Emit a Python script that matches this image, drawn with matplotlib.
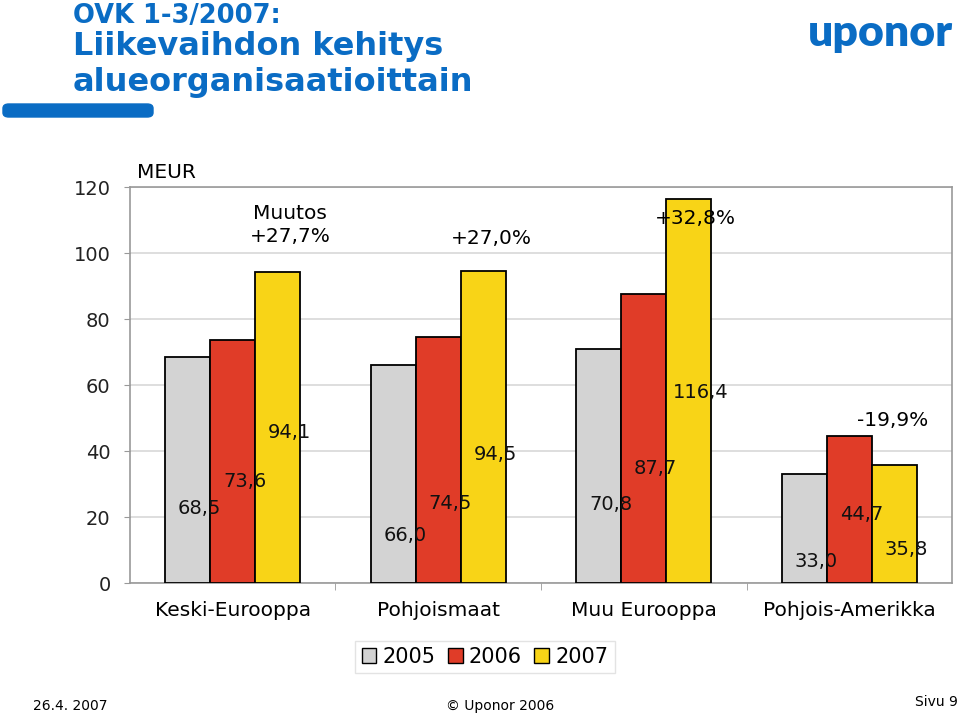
import matplotlib.pyplot as plt
import numpy as np
from matplotlib.patches import FancyBboxPatch

regions = ['Keski-Eurooppa', 'Pohjoismaat', 'Muu Eurooppa', 'Pohjois-Amerikka']
years = ['2005', '2006', '2007']
sales_2005 = [68.5, 66.0, 70.8, 33.0]
sales_2006 = [73.6, 74.5, 87.7, 44.7]
sales_2007 = [94.1, 94.5, 116.4, 35.8]
changes = ['Muutos\n+27,7%', '+27,0%', '+32,8%', '-19,9%']

# where the value labels sit in the original slide (data units, not the bar tops)
label_y = [[22.7, 14.5, 23.9, 6.4],
           [30.9, 24.2, 34.8, 20.9],
           [45.5, 38.8, 57.6, 10.3]]
change_y = [108.5, 104.5, 110.5, 49.1]
change_dx = [0.28, 0.26, 0.25, 0.21]

colors = ['#D3D3D3', '#E03C28', '#F8D417']
blue = '#0A6CC4'

fig = plt.figure(figsize=(9.6, 7.13), dpi=100)
ax = fig.add_axes([0.1354, 0.1823, 0.8563, 0.5554])

x = np.arange(len(regions))
w = 0.219
series = [sales_2005, sales_2006, sales_2007]
for i, vals in enumerate(series):
    xs = x + (i - 1) * w
    ax.bar(xs, vals, w, color=colors[i], edgecolor='black', linewidth=1.3,
           label=years[i], zorder=3)
    for xi, v, ly in zip(xs, vals, label_y[i]):
        ax.text(xi + 0.058, ly, f'{v:.1f}'.replace('.', ','), ha='center',
                va='center', fontsize=14, color='#111111', zorder=4)

for xi, txt, cy, dx in zip(x, changes, change_y, change_dx):
    ax.text(xi + dx, cy, txt, ha='center', va='center', fontsize=14.5,
            linespacing=1.3, zorder=4)

ax.set_xlim(-0.5, 3.5)
ax.set_ylim(0, 120)
ax.set_yticks(range(0, 121, 20))
ax.yaxis.grid(True, color='#D8D8D8', linewidth=1.2, zorder=0)
ax.set_xticks(x)
ax.set_xticklabels(regions, fontsize=14.5)
ax.set_xticks(np.arange(0.5, 3.5, 1), minor=True)
ax.tick_params(axis='x', which='major', length=0, pad=13)
ax.tick_params(axis='x', which='minor', length=5, color='#999999')
ax.tick_params(axis='y', length=4, color='#999999', labelsize=14, pad=10,
               labelcolor='#222222')
for s in ax.spines.values():
    s.set_color('#999999')
    s.set_linewidth(1.2)

fig.text(137 / 960, 1 - 173 / 713, 'MEUR', fontsize=14.5, va='center')

leg = ax.legend(loc='center', bbox_to_anchor=(485 / 960, 1 - 657 / 713),
                bbox_transform=fig.transFigure, ncol=3, fontsize=15,
                frameon=True, fancybox=False, edgecolor='#DDDDDD',
                handlelength=0.7, handleheight=0.7, handletextpad=0.3,
                columnspacing=0.6, borderpad=0.3)
for h in leg.legend_handles:
    h.set_linewidth(1.0)

# title block
fig.text(73 / 960, 1 - 16 / 713, 'OVK 1-3/2007:', fontsize=18.5, fontweight='bold',
         color=blue, va='center')
fig.text(73 / 960, 1 - 47 / 713, 'Liikevaihdon kehitys', fontsize=23,
         fontweight='bold', color=blue, va='center')
fig.text(73 / 960, 1 - 83 / 713, 'alueorganisaatioittain', fontsize=23,
         fontweight='bold', color=blue, va='center')
fig.patches.append(FancyBboxPatch((3 / 960, 1 - 117 / 713), 150 / 960, 13 / 713,
                                  boxstyle='round,pad=0,rounding_size=0.006',
                                  transform=fig.transFigure, color=blue))
fig.text(880 / 960, 1 - 33 / 713, 'uponor', fontsize=32, fontweight='heavy',
         color=blue, ha='center', va='center', family='Lato')

# footer
fig.text(33 / 960, 1 - 706 / 713, '26.4. 2007', fontsize=10, va='center')
fig.text(500 / 960, 1 - 706 / 713, '\u00a9 Uponor 2006', fontsize=10,
         va='center', ha='center')
fig.text(958 / 960, 1 - 702 / 713, 'Sivu 9', fontsize=10, va='center', ha='right')

fig.savefig('out.png', dpi=100)
